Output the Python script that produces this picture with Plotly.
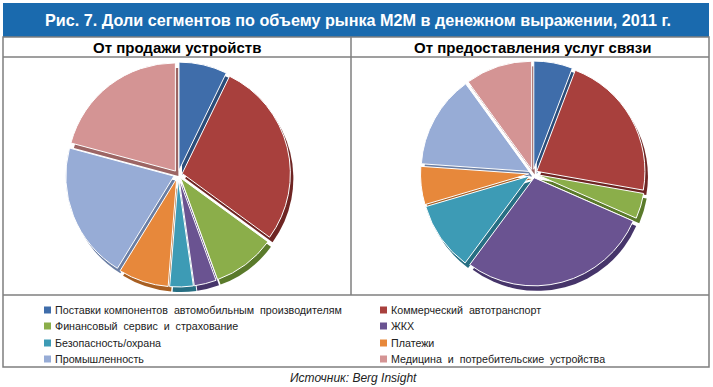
import plotly.graph_objects as go

title_text = "Рис. 7. Доли сегментов по объему рынка M2M в денежном выражении, 2011 г."
subtitles = ["От продажи устройств", "От предоставления услуг связи"]
source_text = "Источник: Berg Insight"

labels = [
    "Поставки компонентов  автомобильным  производителям",
    "Коммерческий  автотранспорт",
    "Финансовый  сервис  и  страхование",
    "ЖКХ",
    "Безопасность/охрана",
    "Платежи",
    "Промышленность",
    "Медицина  и  потребительские  устройства",
]
devices = [7.2, 27.8, 9.4, 3.3, 3.5, 7.5, 20.4, 20.8]
services = [5.8, 22.0, 3.8, 28.6, 10.3, 5.7, 13.9, 10.0]

colors = ["#3F6DAA", "#A8403D", "#8BAE4A", "#6A5391", "#3D9BB5", "#E7883B", "#97ACD6", "#D49494"]
shadow_colors = ["#2B4D7A", "#6E2523", "#5A7A2B", "#46356A", "#276F83", "#A85F22", "#6A7EA4", "#9C6564"]

W, H = 713, 387
FONT_BOLD = "Liberation Sans, Arial, sans-serif"
FONT_LEG = "Liberation Sans, Arial, sans-serif"


def px_x(x):
    return x / W


def px_y(y):
    return 1 - y / H


fig = go.Figure()

pie_boxes = [(65, 291, 62, 287), (420, 646, 61, 286)]
for vals, (x0, x1, y0, y1) in zip([devices, services], pie_boxes):
    # shadow / extrusion
    fig.add_trace(go.Pie(
        labels=labels, values=vals, sort=False, direction="clockwise", rotation=0,
        pull=0.04, textinfo="none", hoverinfo="skip", showlegend=False,
        marker=dict(colors=shadow_colors, line=dict(width=0)),
        domain=dict(x=[px_x(x0 + 3), px_x(x1 + 3)], y=[px_y(y1 + 5), px_y(y0 + 5)]),
    ))
    fig.add_trace(go.Pie(
        labels=labels, values=vals, sort=False, direction="clockwise", rotation=0,
        pull=0.04, textinfo="none", showlegend=False,
        marker=dict(colors=colors, line=dict(color="white", width=1)),
        domain=dict(x=[px_x(x0), px_x(x1)], y=[px_y(y1), px_y(y0)]),
    ))

shapes = []
line_col = "#7F7F7F"
# title banner
shapes.append(dict(type="rect", xref="paper", yref="paper", x0=px_x(3), x1=px_x(709),
                   y0=px_y(37), y1=px_y(3), fillcolor="#1A6AAE", line=dict(width=0), layer="below"))
# outer frame
shapes.append(dict(type="rect", xref="paper", yref="paper", x0=px_x(3), x1=px_x(709),
                   y0=px_y(367), y1=px_y(37), line=dict(color=line_col, width=1.5)))
# header line
shapes.append(dict(type="line", xref="paper", yref="paper", x0=px_x(3), x1=px_x(709),
                   y0=px_y(57), y1=px_y(57), line=dict(color=line_col, width=1.5)))
# legend top line
shapes.append(dict(type="line", xref="paper", yref="paper", x0=px_x(3), x1=px_x(709),
                   y0=px_y(295), y1=px_y(295), line=dict(color=line_col, width=1.5)))
# vertical divider
shapes.append(dict(type="line", xref="paper", yref="paper", x0=px_x(351), x1=px_x(351),
                   y0=px_y(295), y1=px_y(37), line=dict(color=line_col, width=1.5)))

annotations = []
annotations.append(dict(text="<b>" + title_text + "</b>", x=px_x(358), y=px_y(20), xref="paper", yref="paper",
                        showarrow=False, font=dict(family=FONT_BOLD, size=16.2, color="white"),
                        xanchor="center", yanchor="middle"))
for txt, cx in zip(subtitles, [177, 532]):
    annotations.append(dict(text="<b>" + txt + "</b>", x=px_x(cx), y=px_y(47), xref="paper", yref="paper",
                            showarrow=False, font=dict(family=FONT_BOLD, size=15, color="black"),
                            xanchor="center", yanchor="middle"))

# legend (two columns, row-wise order)
col_x = [44, 380]
row_y = [310, 326, 343, 359]
for i, (lab, col) in enumerate(zip(labels, colors)):
    cx = col_x[i % 2]
    cy = row_y[i // 2]
    shapes.append(dict(type="rect", xref="paper", yref="paper", x0=px_x(cx), x1=px_x(cx + 7),
                       y0=px_y(cy + 3.5), y1=px_y(cy - 3.5), fillcolor=col, line=dict(width=0)))
    annotations.append(dict(text=lab, x=px_x(cx + 9), y=px_y(cy), xref="paper", yref="paper",
                            showarrow=False, font=dict(family=FONT_LEG, size=10.7, color="#222222"),
                            xanchor="left", yanchor="middle"))

annotations.append(dict(text="<i>" + source_text + "</i>", x=px_x(353), y=px_y(378), xref="paper", yref="paper",
                        showarrow=False, font=dict(family=FONT_LEG, size=12, color="#222222"),
                        xanchor="center", yanchor="middle"))

fig.update_layout(
    width=W, height=H, margin=dict(l=0, r=0, t=0, b=0),
    paper_bgcolor="white", plot_bgcolor="white",
    shapes=shapes, annotations=annotations, showlegend=False,
)

fig.write_html("out.html", config={"displayModeBar": False},
               post_script="document.body.style.margin='0';document.body.style.overflow='hidden';")
